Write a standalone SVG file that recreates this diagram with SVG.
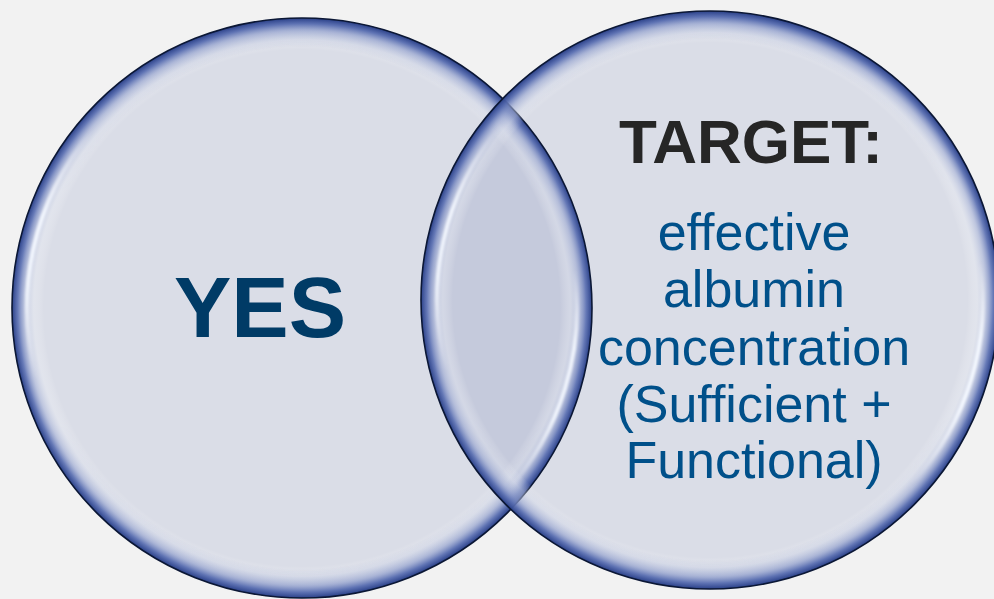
<svg xmlns="http://www.w3.org/2000/svg" width="994" height="599" viewBox="0 0 994 599">
  <style>
    .base { fill: #dadde7; }
    .lens { fill: #c5cadc; }
    .ring { fill: url(#bevel); stroke: #0b1735; stroke-width: 1.6; }
    .band { fill: url(#band); mask: url(#tb); }
    .hl { fill: none; stroke-width: 4; stroke-linecap: round; filter: url(#soft); }
    .big { font-family: "Liberation Sans", Arial, sans-serif; font-weight: bold; text-anchor: middle; }
    .body { font-family: "Liberation Sans", Arial, sans-serif; font-size: 52px; fill: #00508a; text-anchor: middle; }
  </style>
  <defs>
    <radialGradient id="bevel" cx="0.5" cy="0.5" r="0.5">
      <stop offset="0" stop-color="#ffffff" stop-opacity="0"/>
      <stop offset="0.89" stop-color="#ffffff" stop-opacity="0"/>
      <stop offset="0.925" stop-color="#eef1f7" stop-opacity="0.35"/>
      <stop offset="0.955" stop-color="#a7b3d8" stop-opacity="0.55"/>
      <stop offset="0.98" stop-color="#5a6fb2" stop-opacity="0.9"/>
      <stop offset="1" stop-color="#2a4088" stop-opacity="1"/>
    </radialGradient>
    <radialGradient id="band" cx="0.5" cy="0.5" r="0.5">
      <stop offset="0" stop-color="#4a60a8" stop-opacity="0"/>
      <stop offset="0.9" stop-color="#4a60a8" stop-opacity="0"/>
      <stop offset="0.96" stop-color="#4a60a8" stop-opacity="0.35"/>
      <stop offset="1" stop-color="#2a4088" stop-opacity="0.8"/>
    </radialGradient>
    <linearGradient id="tbg" x1="0" y1="0" x2="0" y2="1">
      <stop offset="0" stop-color="#fff"/>
      <stop offset="0.3" stop-color="#000"/>
      <stop offset="0.7" stop-color="#000"/>
      <stop offset="1" stop-color="#fff"/>
    </linearGradient>
    <mask id="tb" maskContentUnits="objectBoundingBox">
      <rect x="0" y="0" width="1" height="1" fill="url(#tbg)"/>
    </mask>
    <filter id="soft" x="-20%" y="-20%" width="140%" height="140%">
      <feGaussianBlur stdDeviation="1.3"/>
    </filter>
    <linearGradient id="hlL1" gradientUnits="userSpaceOnUse" x1="0" y1="131" x2="0" y2="379">
      <stop offset="0" stop-color="#ffffff" stop-opacity="0"/>
      <stop offset="0.35" stop-color="#f4f8ff" stop-opacity="0.95"/>
      <stop offset="0.62" stop-color="#f4f8ff" stop-opacity="0.9"/>
      <stop offset="1" stop-color="#ffffff" stop-opacity="0"/>
    </linearGradient>
    <linearGradient id="hlR1" gradientUnits="userSpaceOnUse" x1="0" y1="270" x2="0" y2="492">
      <stop offset="0" stop-color="#ffffff" stop-opacity="0"/>
      <stop offset="0.35" stop-color="#f4f8ff" stop-opacity="0.9"/>
      <stop offset="0.65" stop-color="#f4f8ff" stop-opacity="0.9"/>
      <stop offset="1" stop-color="#ffffff" stop-opacity="0"/>
    </linearGradient>
    <linearGradient id="hlL2" gradientUnits="userSpaceOnUse" x1="0" y1="124" x2="0" y2="371">
      <stop offset="0" stop-color="#ffffff" stop-opacity="0"/>
      <stop offset="0.35" stop-color="#f4f8ff" stop-opacity="0.9"/>
      <stop offset="0.62" stop-color="#f4f8ff" stop-opacity="0.85"/>
      <stop offset="1" stop-color="#ffffff" stop-opacity="0"/>
    </linearGradient>
    <linearGradient id="hlR2" gradientUnits="userSpaceOnUse" x1="0" y1="262" x2="0" y2="484">
      <stop offset="0" stop-color="#ffffff" stop-opacity="0"/>
      <stop offset="0.35" stop-color="#f4f8ff" stop-opacity="0.95"/>
      <stop offset="0.65" stop-color="#f4f8ff" stop-opacity="0.95"/>
      <stop offset="1" stop-color="#ffffff" stop-opacity="0"/>
    </linearGradient>
    <clipPath id="clipRight">
      <circle cx="710" cy="300" r="289"/>
    </clipPath>
  </defs>

  <rect x="0" y="0" width="994" height="599" fill="#f2f2f2"/>

  <g id="bases">
    <circle class="base" cx="302" cy="308" r="290"/>
    <circle class="base" cx="710" cy="300" r="289"/>
    <circle class="lens" cx="302" cy="308" r="290" clip-path="url(#clipRight)"/>
  </g>

  <g id="node-yes">
    <circle class="band" cx="302" cy="308" r="290"/>
    <circle class="ring" cx="302" cy="308" r="290"/>
    <path class="hl" stroke="url(#hlL1)" d="M 36.4 379.2 A 275 275 0 0 1 91.3 131.2"/>
    <path class="hl" stroke="url(#hlR1)" d="M 574.3 269.7 A 275 275 0 0 1 506.4 492.0"/>
    <text class="big" x="260" y="337" font-size="86" fill="#003b66">YES</text>
  </g>

  <g id="node-target">
    <circle class="band" cx="710" cy="300" r="289"/>
    <circle class="ring" cx="710" cy="300" r="289"/>
    <path class="hl" stroke="url(#hlL2)" d="M 446.3 370.7 A 273 273 0 0 1 500.9 124.5"/>
    <path class="hl" stroke="url(#hlR2)" d="M 980.3 262.0 A 273 273 0 0 1 912.9 482.7"/>
    <text class="big" x="751" y="163" font-size="62" fill="#262626">TARGET:</text>
    <text class="body" x="754" y="250">effective</text>
    <text class="body" x="754" y="307">albumin</text>
    <text class="body" x="754" y="365">concentration</text>
    <text class="body" x="754" y="422">(Sufficient +</text>
    <text class="body" x="754" y="478">Functional)</text>
  </g>

  <g id="connectors"></g>
</svg>
